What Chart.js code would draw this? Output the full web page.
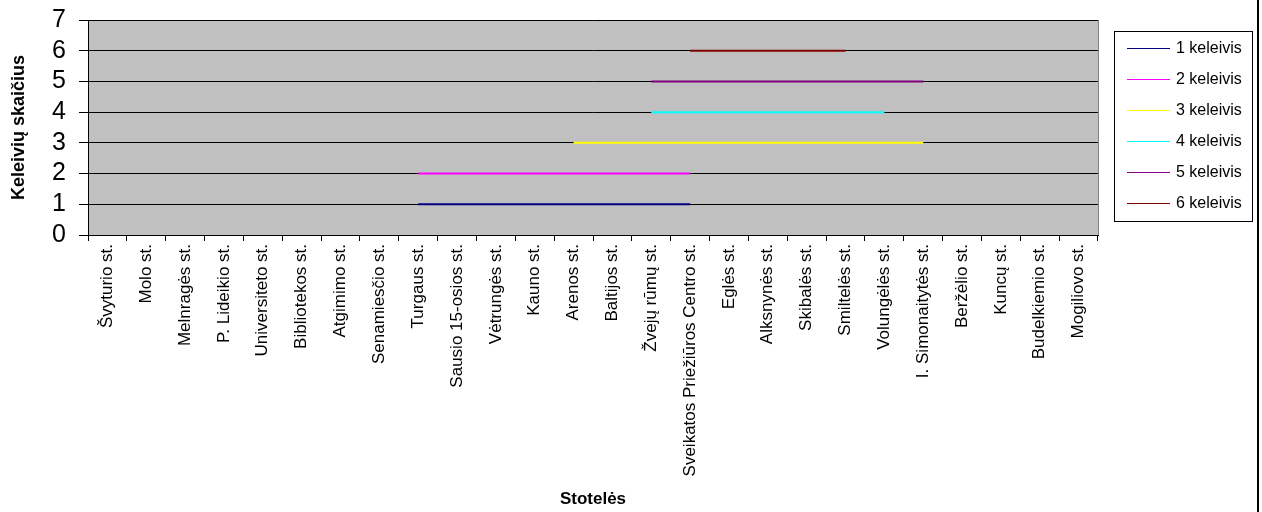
<!DOCTYPE html>
<html>
<head>
<meta charset="utf-8">
<script src="https://cdn.jsdelivr.net/npm/chart.js@4.4.1/dist/chart.umd.min.js"></script>
<style>
  html, body { margin: 0; padding: 0; background: #fff; }
  #wrap { position: relative; width: 1262px; height: 512px; }
  #wrap:after { content: ""; position: absolute; left: 1257px; top: 0; width: 2px; height: 512px; background: #000; }
</style>
</head>
<body>
<div id="wrap"><canvas id="chart" width="1262" height="512"></canvas></div>
<script>
    // stotelės (x axis categories)
    const stops = [
        'Švyturio st.', 'Molo st.', 'Melnragės st.', 'P. Lideikio st.', 'Universiteto st.',
        'Bibliotekos st.', 'Atgimimo st.', 'Senamiesčio st.', 'Turgaus st.', 'Sausio 15-osios st.',
        'Vėtrungės st.', 'Kauno st.', 'Arenos st.', 'Baltijos st.', 'Žvejų rūmų st.',
        'Sveikatos Priežiūros Centro st.', 'Eglės st.', 'Alksnynės st.', 'Skibalės st.', 'Smiltelės st.',
        'Volungėlės st.', 'I. Simonaitytės st.', 'Beržėlio st.', 'Kuncų st.', 'Budelkiemio st.', 'Mogiliovo st.'
    ];

    const _ = null;
    const passenger1 = [_, _, _, _, _, _, _, _, 1, 1, 1, 1, 1, 1, 1, 1, _, _, _, _, _, _, _, _, _, _];
    const passenger2 = [_, _, _, _, _, _, _, _, 2, 2, 2, 2, 2, 2, 2, 2, _, _, _, _, _, _, _, _, _, _];
    const passenger3 = [_, _, _, _, _, _, _, _, _, _, _, _, 3, 3, 3, 3, 3, 3, 3, 3, 3, 3, _, _, _, _];
    const passenger4 = [_, _, _, _, _, _, _, _, _, _, _, _, _, _, 4, 4, 4, 4, 4, 4, 4, _, _, _, _, _];
    const passenger5 = [_, _, _, _, _, _, _, _, _, _, _, _, _, _, 5, 5, 5, 5, 5, 5, 5, 5, _, _, _, _];
    const passenger6 = [_, _, _, _, _, _, _, _, _, _, _, _, _, _, _, 6, 6, 6, 6, 6, _, _, _, _, _, _];

    const seriesNames = ['1 keleivis', '2 keleivis', '3 keleivis', '4 keleivis', '5 keleivis', '6 keleivis'];
    const seriesData = [passenger1, passenger2, passenger3, passenger4, passenger5, passenger6];
    const seriesColors = ['#000080', '#FF00FF', '#FFFF00', '#00FFFF', '#800080', '#800000'];

    const yTicks = [0, 1, 2, 3, 4, 5, 6, 7];

    const FONT = 'Arial, "Liberation Sans", sans-serif';

    // gray plot background with a gray frame
    const plotBackground = {
        id: 'plotBackground',
        beforeDraw(chart) {
            const a = chart.chartArea;
            const ctx = chart.ctx;
            ctx.save();
            ctx.fillStyle = '#C0C0C0';
            ctx.fillRect(a.left, a.top, a.right - a.left, a.bottom - a.top);
            ctx.strokeStyle = '#808080';
            ctx.lineWidth = 1;
            ctx.strokeRect(a.left + 0.5, a.top + 0.5, a.right - a.left, a.bottom - a.top);
            ctx.restore();
        }
    };

    // Excel-style boxed legend on the right
    const boxLegend = {
        id: 'boxLegend',
        afterDraw(chart) {
            const ctx = chart.ctx;
            const x = 1114, y = 31, w = 138, h = 190;
            ctx.save();
            ctx.fillStyle = '#fff';
            ctx.fillRect(x, y, w, h);
            ctx.strokeStyle = '#000';
            ctx.lineWidth = 1;
            ctx.strokeRect(x + 0.5, y + 0.5, w, h);
            ctx.font = '16px ' + FONT;
            ctx.textBaseline = 'middle';
            chart.data.datasets.forEach((ds, i) => {
                const ly = 48 + i * 31;
                ctx.strokeStyle = ds.borderColor;
                ctx.beginPath();
                ctx.moveTo(1127, ly + 0.5);
                ctx.lineTo(1170, ly + 0.5);
                ctx.stroke();
                ctx.fillStyle = '#000';
                ctx.fillText(ds.label, 1176, ly + 1);
            });
            ctx.restore();
        }
    };

    const ctx = document.getElementById('chart').getContext('2d');
    new Chart(ctx, {
        type: 'line',
        data: {
            labels: stops,
            datasets: seriesNames.map((name, i) => ({
                label: name,
                data: seriesData[i],
                borderColor: seriesColors[i],
                backgroundColor: seriesColors[i],
                borderWidth: 2,
                pointRadius: 0,
                tension: 0,
                spanGaps: false,
            })),
        },
        options: {
            responsive: false,
            animation: false,
            layout: { padding: { top: 20, right: 164, left: 0, bottom: 0 } },
            plugins: {
                legend: { display: false },
                tooltip: { enabled: false },
            },
            scales: {
                x: {
                    type: 'category',
                    offset: true,
                    afterFit(scale) { scale.height = 277; },
                    grid: {
                        offset: true,
                        drawOnChartArea: false,
                        drawTicks: true,
                        tickLength: 6,
                        color: '#000',
                    },
                    border: { color: '#000', width: 1 },
                    ticks: {
                        autoSkip: false,
                        maxRotation: 90,
                        minRotation: 90,
                        padding: 3,
                        color: '#000',
                        font: { family: FONT, size: 17 },
                    },
                    title: {
                        display: true,
                        text: 'Stotelės',
                        color: '#000',
                        font: { family: FONT, size: 17, weight: 'bold' },
                        padding: { top: 0, bottom: 2 },
                    },
                },
                y: {
                    min: 0,
                    max: 7,
                    afterFit(scale) {
                        scale.width = 88;
                        scale.paddingTop = 0;
                        scale.paddingBottom = 0;
                    },
                    afterBuildTicks(scale) { scale.ticks = yTicks.map(v => ({ value: v })); },
                    grid: {
                        color: '#000',
                        tickLength: 9,
                        drawTicks: true,
                    },
                    border: { color: '#000', width: 1 },
                    ticks: {
                        autoSkip: false,
                        padding: 13,
                        color: '#000',
                        font: { family: FONT, size: 25 },
                    },
                    title: {
                        display: true,
                        text: 'Keleivių skaičius',
                        color: '#000',
                        font: { family: FONT, size: 18, weight: 'bold' },
                        padding: { top: 8, bottom: 0 },
                    },
                },
            },
        },
        plugins: [plotBackground, boxLegend],
    });
</script>
</body>
</html>
